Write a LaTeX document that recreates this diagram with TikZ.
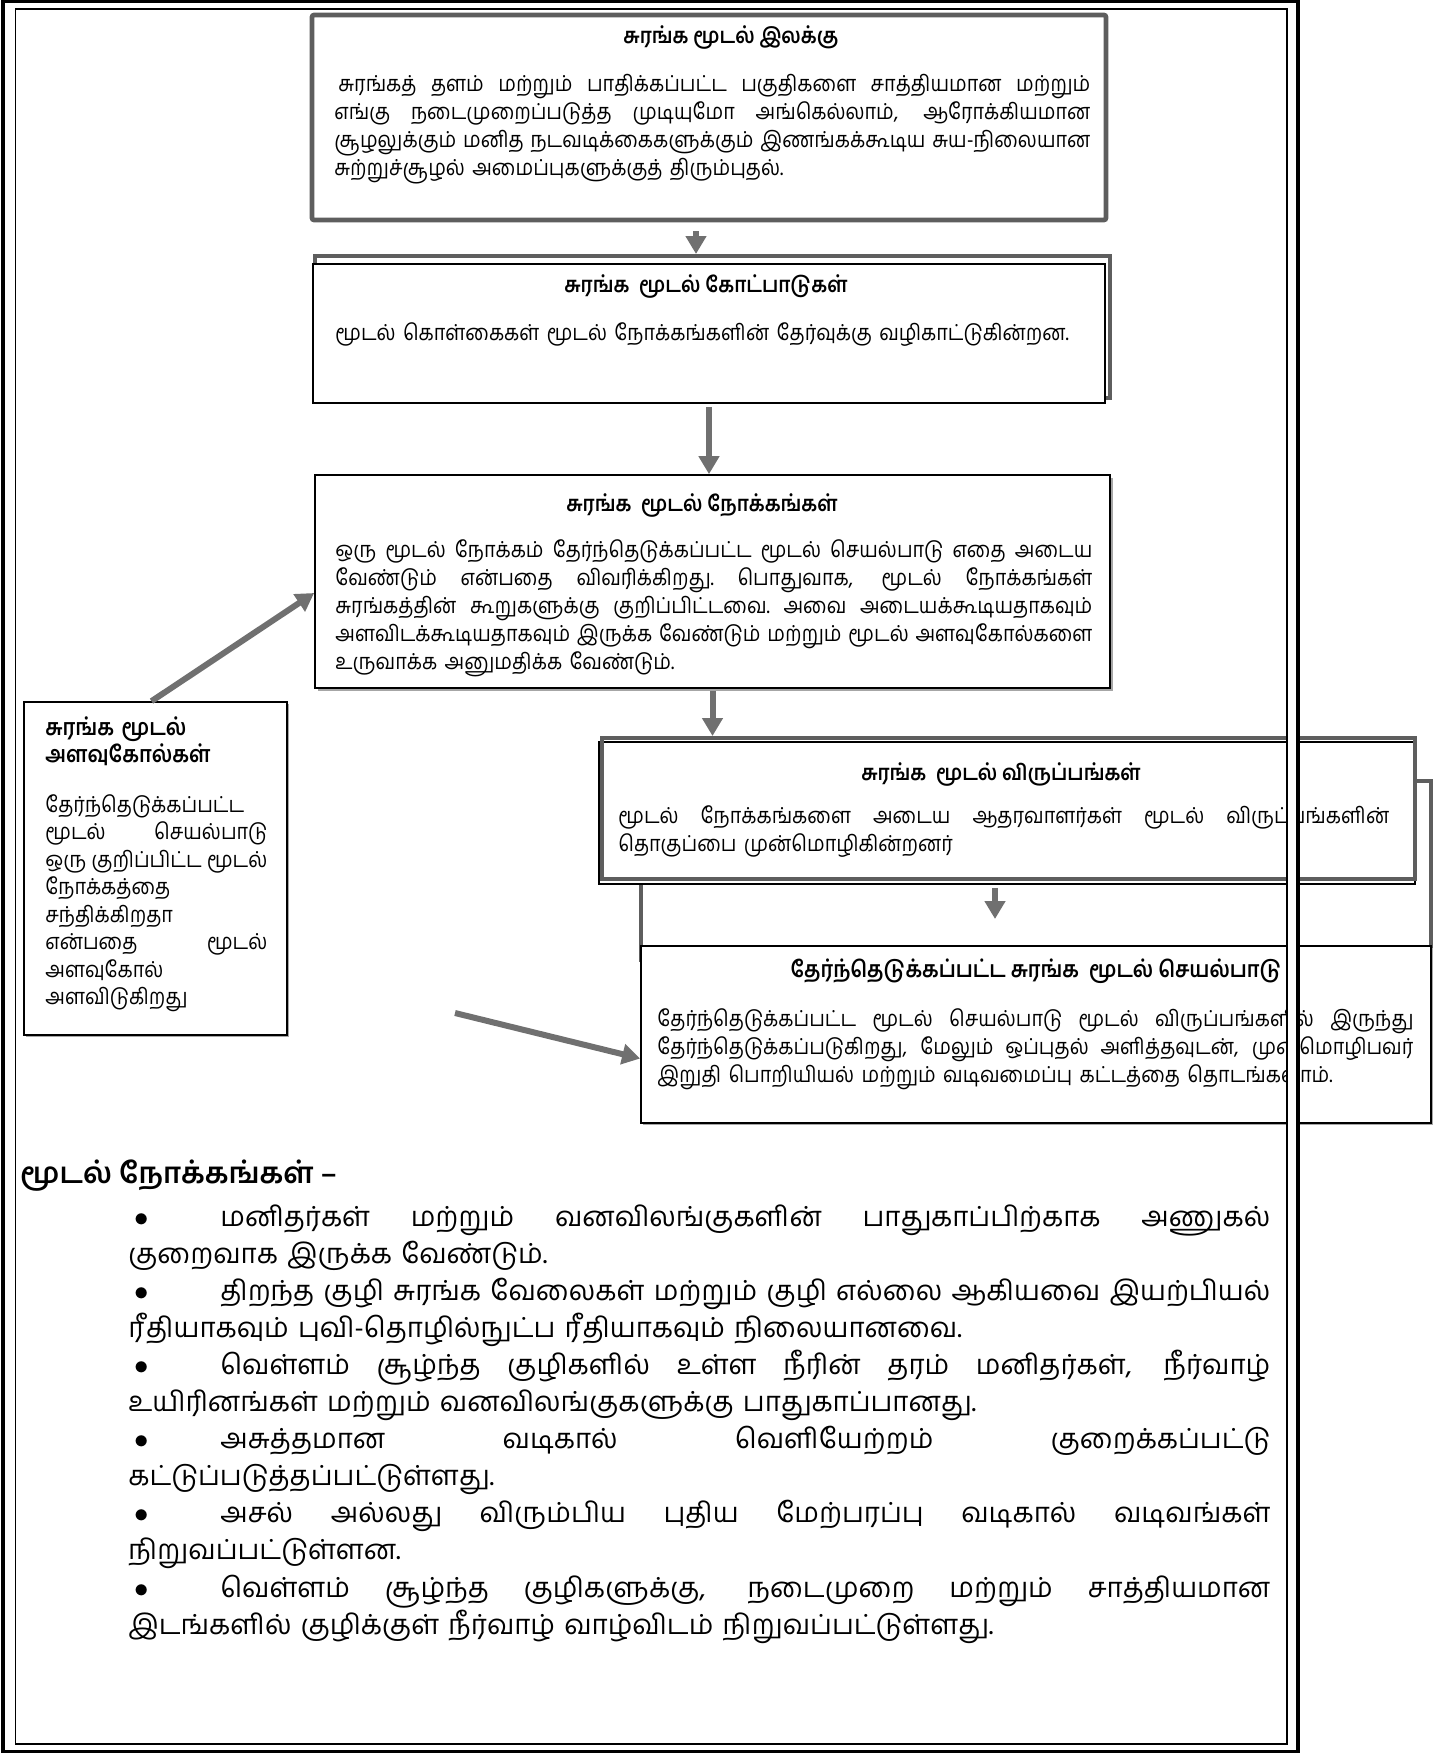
\documentclass[tikz,border=0pt]{standalone}
\usepackage{fontspec}
\setmainfont{Hind Madurai}[Script=Tamil]
\newfontfamily\tamc{Hind Madurai}[Script=Tamil, FakeStretch=0.9]
\usetikzlibrary{arrows.meta,fit}
\definecolor{boxgray}{HTML}{5E5E5E}
\definecolor{arrgray}{HTML}{707070}
\newcommand\jl[1]{\leavevmode\hbox to\hsize{\spaceskip=\fontdimen2\font plus 1fil minus .35\fontdimen2\font\xspaceskip=\spaceskip\relax #1}}
\begin{document}
\begin{tikzpicture}[x=0.5pt,y=-0.5pt,
  gbox/.style={draw=boxgray, line width=2.3pt, fill=white, rounded corners=1pt, inner sep=0pt},
  kbox/.style={draw=black, line width=0.85pt, fill=white, inner sep=0pt},
  gline/.style={draw=boxgray, line width=2pt, inner sep=0pt},
  shd/.style={fill=black!35, inner sep=0pt},
  arr/.style={draw=arrgray, line width=3pt, -{Triangle[width=10pt,length=9pt]}},
  body/.style={inner sep=0pt, align=left, font=\tamc\fontsize{11}{14}\selectfont},
  ttl/.style={inner sep=0pt, font=\tamc\bfseries\fontsize{10.8}{14}\selectfont},
  ]
\useasboundingbox (0,0) rectangle (1437,1753);

% box 1
\node[gbox, fit={(312,15)(1106,220)}] (b1) {};
% box 2
\node[gline, fit={(315,256)(1110,398)}] (b2s) {};
\node[kbox, fit={(313,264)(1105,403)}] (b2) {};
% box 3
\node[shd, fit={(318,478)(1113,691)}] (b3sh) {};
\node[kbox, fit={(315,475)(1110,688)}] (b3) {};
% shadow rectangle behind box 6
\node[draw=boxgray, line width=1.6pt, inner sep=0pt, fit={(641,781)(1431,960)}] (b6s) {};
% box 4
\node[kbox, fit={(599,742)(1415,884)}] (b4) {};
\node[gline, fit={(602,738)(1415,879)}] (b4s) {};
% box 6
\node[shd, fit={(643,948)(1433,1125)}] (b6sh) {};
\node[kbox, fit={(641,946)(1431,1123)}] (b6) {};
% box 5
\node[shd, fit={(26,704)(289,1037)}] (b5sh) {};
\node[kbox, fit={(24,702)(287,1035)}] (b5) {};

% connectors
\coordinate (a4e) at (995,919);
\coordinate (a6s) at (455,1013);
\draw[arr, shorten <=4.5pt] ([xshift=-6.5pt]b1.south) -- ([xshift=-6.5pt]b1.south |- b2s.north);
\draw[arr, shorten <=1.5pt] (b2.south) -- (b2.south |- b3.north);
\draw[arr, shorten <=1pt] (b3.south) -- (b3.south |- b4s.north);
\draw[arr, shorten <=1.5pt] (b4.south -| a4e) -- (a4e);
\draw[arr] ([xshift=-2pt]b5.north) -- ([yshift=-5.75pt]b3.west);
\draw[arr] (a6s) -- ([yshift=-12pt]b6.west);

% texts
\node[ttl, anchor=base] (t1h) at (731,43) {சுரங்க மூடல் இலக்கு};
\node[body, text width=378pt, anchor=base west] (t1b) at (334,91) {\jl{\hspace{2pt}சுரங்கத் தளம் மற்றும் பாதிக்கப்பட்ட பகுதிகளை சாத்தியமான மற்றும்}\\
\jl{எங்கு நடைமுறைப்படுத்த முடியுமோ அங்கெல்லாம், ஆரோக்கியமான}\\
\jl{சூழலுக்கும் மனித நடவடிக்கைகளுக்கும் இணங்கக்கூடிய சுய-நிலையான}\\
சுற்றுச்சூழல் அமைப்புகளுக்குத் திரும்புதல்.};

\node[ttl, anchor=base] (t2h) at (706,292) {சுரங்க\ \ மூடல் கோட்பாடுகள்};
\node[body, text width=385pt, anchor=base west] (t2b) at (335,340) {மூடல் கொள்கைகள் மூடல் நோக்கங்களின் தேர்வுக்கு வழிகாட்டுகின்றன.};

\node[ttl, anchor=base] (t3h) at (702,511) {சுரங்க\ \ மூடல் நோக்கங்கள்};
\node[body, text width=378.5pt, anchor=base west] (t3b) at (335,557) {\jl{ஒரு மூடல் நோக்கம் தேர்ந்தெடுக்கப்பட்ட மூடல் செயல்பாடு எதை அடைய}\\
\jl{வேண்டும் என்பதை விவரிக்கிறது. பொதுவாக, மூடல் நோக்கங்கள்}\\
\jl{சுரங்கத்தின் கூறுகளுக்கு குறிப்பிட்டவை. அவை அடையக்கூடியதாகவும்}\\
\jl{அளவிடக்கூடியதாகவும் இருக்க வேண்டும் மற்றும் மூடல் அளவுகோல்களை}\\
உருவாக்க அனுமதிக்க வேண்டும்.};

\node[ttl, anchor=base] (t4h) at (1001,780) {சுரங்க\ \ மூடல் விருப்பங்கள்};
\node[body, text width=385.5pt, anchor=base west] (t4b) at (618,823) {\jl{மூடல் நோக்கங்களை அடைய ஆதரவாளர்கள் மூடல் விருப்பங்களின்}\\
தொகுப்பை முன்மொழிகின்றனர்};

\node[ttl, anchor=base, font=\tamc\bfseries\fontsize{11.3}{14}\selectfont] (t6h) at (1036,977) {தேர்ந்தெடுக்கப்பட்ட சுரங்க\ \ மூடல் செயல்பாடு};
\node[body, text width=378pt, anchor=base west] (t6b) at (657,1026) {\jl{தேர்ந்தெடுக்கப்பட்ட மூடல் செயல்பாடு மூடல் விருப்பங்களில் இருந்து}\\
\jl{தேர்ந்தெடுக்கப்படுகிறது, மேலும் ஒப்புதல் அளித்தவுடன், முன்மொழிபவர்}\\
இறுதி பொறியியல் மற்றும் வடிவமைப்பு கட்டத்தை தொடங்கலாம்.};

\node[ttl, text width=112pt, align=left, anchor=base west, font=\tamc\bfseries\fontsize{11.4}{13.5}\selectfont] (t5h) at (45,735) {சுரங்க மூடல்\\ அளவுகோல்கள்};
\node[body, text width=111pt, anchor=base west, font=\tamc\fontsize{11}{13.75}\selectfont] (t5b) at (45,812) {தேர்ந்தெடுக்கப்பட்ட\\
\jl{மூடல் செயல்பாடு}\\
\jl{ஒரு குறிப்பிட்ட மூடல்}\\
நோக்கத்தை\\
சந்திக்கிறதா\\
\jl{என்பதை மூடல்}\\
அளவுகோல்\\
அளவிடுகிறது};

% list
\node[inner sep=0pt, anchor=base west, font=\bfseries\fontsize{14.5}{18.5}\selectfont] (lh) at (20,1183) {மூடல் நோக்கங்கள் –};
\node[inner sep=0pt, align=left, text width=571pt, anchor=base west, font=\fontsize{13.8}{18.55}\selectfont] (lst) at (128,1226) {%
\jl{\makebox[46pt][l]{\hspace{3pt}$\bullet$}மனிதர்கள் மற்றும் வனவிலங்குகளின் பாதுகாப்பிற்காக அணுகல்}\\
குறைவாக இருக்க வேண்டும்.\\
\jl{\makebox[46pt][l]{\hspace{3pt}$\bullet$}திறந்த குழி சுரங்க வேலைகள் மற்றும் குழி எல்லை ஆகியவை இயற்பியல்}\\
ரீதியாகவும் புவி-தொழில்நுட்ப ரீதியாகவும் நிலையானவை.\\
\jl{\makebox[46pt][l]{\hspace{3pt}$\bullet$}வெள்ளம் சூழ்ந்த குழிகளில் உள்ள நீரின் தரம் மனிதர்கள், நீர்வாழ்}\\
உயிரினங்கள் மற்றும் வனவிலங்குகளுக்கு பாதுகாப்பானது.\\
\jl{\makebox[46pt][l]{\hspace{3pt}$\bullet$}அசுத்தமான வடிகால் வெளியேற்றம் குறைக்கப்பட்டு}\\
கட்டுப்படுத்தப்பட்டுள்ளது.\\
\jl{\makebox[46pt][l]{\hspace{3pt}$\bullet$}அசல் அல்லது விரும்பிய புதிய மேற்பரப்பு வடிகால் வடிவங்கள்}\\
நிறுவப்பட்டுள்ளன.\\
\jl{\makebox[46pt][l]{\hspace{3pt}$\bullet$}வெள்ளம் சூழ்ந்த குழிகளுக்கு, நடைமுறை மற்றும் சாத்தியமான}\\
இடங்களில் குழிக்குள் நீர்வாழ் வாழ்விடம் நிறுவப்பட்டுள்ளது.};

% page frame (drawn last, over the boxes)
\draw[white, line width=4.5pt] (9.5,4.5) rectangle (1292.5,1747.5);
\draw[black, line width=1.8pt] (3.3,0.8) rectangle (1298,1751.5);
\draw[black, line width=0.8pt] (15.5,9) rectangle (1287,1744);
\end{tikzpicture}
\end{document}
